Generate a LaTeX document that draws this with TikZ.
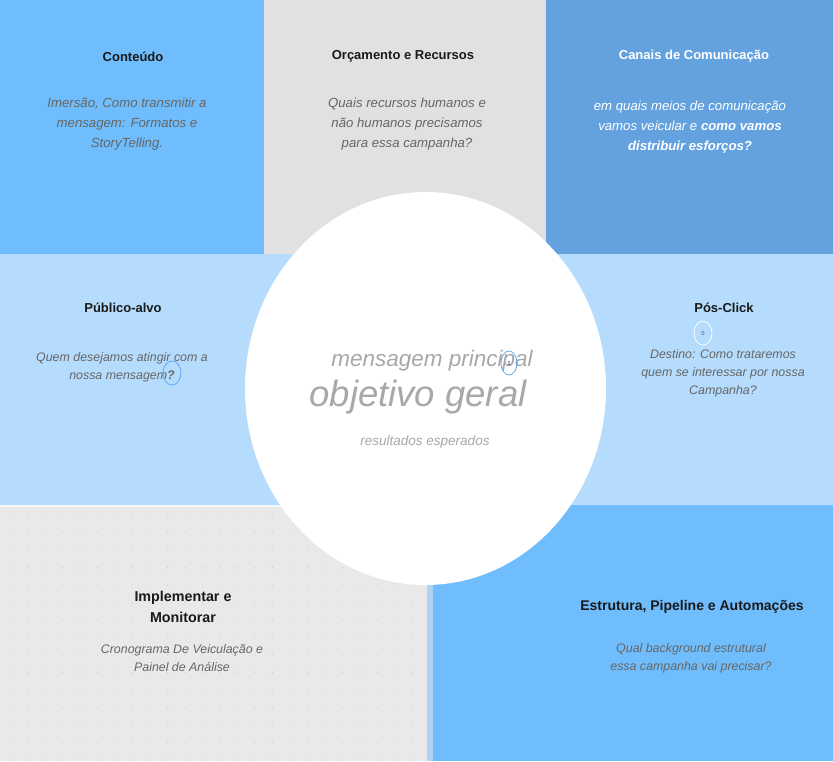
\documentclass[tikz,border=0pt]{standalone}
\usepackage{fontspec}
\setmainfont{Liberation Sans}
\definecolor{cblue}{HTML}{6FBDFC}
\definecolor{cgrey}{HTML}{E1E1E1}
\definecolor{cdark}{HTML}{63A1DF}
\definecolor{clight}{HTML}{B5DCFD}
\definecolor{cpale}{HTML}{E9E9E9}
\definecolor{cstrip}{HTML}{AED3F2}
\definecolor{ctitle}{HTML}{1A1A1A}
\definecolor{cbody}{HTML}{666666}
\definecolor{cmid}{HTML}{A8A8A8}
\definecolor{cmark}{HTML}{5AA9F0}
\definecolor{cdot}{HTML}{CCCCCC}
\usetikzlibrary{shapes.geometric}
\tikzset{
  title/.style={font=\fontsize{13}{16}\selectfont\bfseries, text=ctitle, align=center, inner sep=0pt},
  body/.style={font=\fontsize{13.2}{20}\selectfont\itshape, text=cbody, align=center, inner sep=0pt},
  smallbody/.style={font=\fontsize{12.4}{18}\selectfont\itshape, text=cbody, align=center, inner sep=0pt},
  marker/.style={draw=cmark, line width=0.8pt, ellipse, inner sep=0pt},
}
\begin{document}
\begin{tikzpicture}[x=1pt,y=-1pt]
\useasboundingbox (0,0) rectangle (833,761);
% panels
\fill[cblue] (0,0) rectangle (264,254);
\fill[cgrey] (264,0) rectangle (546,254);
\fill[cdark] (546,0) rectangle (833,254);
\fill[clight] (0,254) rectangle (833,505);
\fill[cpale] (0,505) rectangle (427,761);
\fill[white!60!cpale] (0,505) rectangle (427,507);
\fill[cstrip] (427,505) rectangle (433,761);
\fill[cblue] (433,505) rectangle (833,761);
% dots
\foreach \i in {0,...,23}{
  \foreach \j in {0,...,14}{
    \fill[cdot] (10+17.5*\i,515+17.5*\j) circle (0.6);
  }
}
% central ellipse
\fill[white] (425.5,388.5) ellipse [x radius=180.5, y radius=196.5];
% top row
\node[title] (t1) at (133,56.5) {Conteúdo};
\node[body] (b1) at (127,124) {Imersão, Como transmitir a\\mensagem: Formatos e\\StoryTelling.};
\node[title] (t2) at (403,56.5) {Orçamento e Recursos};
\node[body] (b2) at (407,124) {Quais recursos humanos e\\não humanos precisamos\\para essa campanha?};
\node[title, text=white] (t3) at (694,56.5) {Canais de Comunicação};
\node[body, text=white] (b3) at (690,127) {em quais meios de comunicação\\vamos veicular e \textbf{como vamos}\\\textbf{distribuir esforços?}};
% middle row
\node[title] (t4) at (123,308) {Público-alvo};
\node[smallbody] (b4) at (122,367) {Quem desejamos atingir com a\\nossa mensagem\textbf{?}};
\node[title] (t5) at (724,308) {Pós-Click};
\node[smallbody] (b5) at (723,373) {Destino: Como trataremos\\quem se interessar por nossa\\Campanha?};
\node[draw=white, line width=0.7pt, ellipse, minimum width=18pt, minimum height=24pt, inner sep=0pt, font=\fontsize{6}{6}\selectfont, text=cbody] (m5) at (703,333) {5};
% centre
\node[font=\fontsize{22.5}{26}\selectfont\itshape, text=cmid, inner sep=0pt] (c1) at (432,361) {mensagem principal};
\node[font=\fontsize{36.5}{40}\selectfont\itshape, text=cmid, inner sep=0pt] (c2) at (418,397) {objetivo geral};
\node[font=\fontsize{13.5}{16}\selectfont\itshape, text=cmid, inner sep=0pt] (c3) at (425,442) {resultados esperados};
\node[marker, minimum width=16pt, minimum height=24pt, font=\fontsize{6}{6}\selectfont, text=ctitle] (m1) at (509,363) {1};
\node[marker, minimum width=18pt, minimum height=24pt] (m2) at (172,373) {};
% bottom row
\node[title, font=\fontsize{14.3}{21}\selectfont\bfseries] (t6) at (183,607) {Implementar e\\Monitorar};
\node[smallbody] (b6) at (182,658) {Cronograma De Veiculação e\\Painel de Análise};
\node[title, font=\fontsize{14}{17}\selectfont\bfseries] (t7) at (692,607) {Estrutura, Pipeline e Automações};
\node[smallbody] (b7) at (691,658) {Qual background estrutural\\essa campanha vai precisar?};
\end{tikzpicture}
\end{document}
